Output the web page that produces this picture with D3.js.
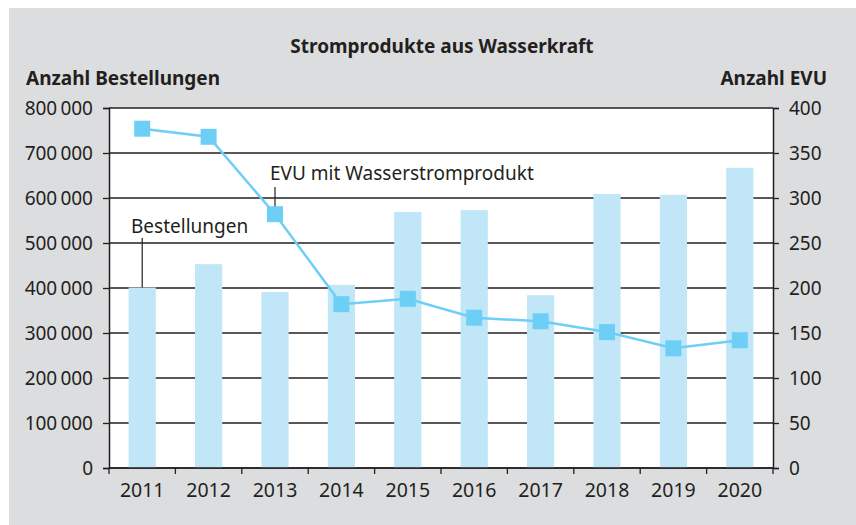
<!DOCTYPE html>
<html><head><meta charset="utf-8">
<script src="https://cdn.jsdelivr.net/npm/d3@7"></script>
<style>
html,body{margin:0;padding:0;background:#fff;}
text{font-family:"Noto Sans",sans-serif;fill:#231f20;}
</style></head>
<body>
<svg id="chart" width="856" height="525"></svg>
<script>
const years = ["2011","2012","2013","2014","2015","2016","2017","2018","2019","2020"];
const bestellungen = [401000, 453000, 391000, 407000, 569000, 573000, 384000, 609000, 607000, 667000];
const evu = [377, 368, 282, 182, 188, 167, 163, 151, 133, 142];
const leftTicks = [0,100000,200000,300000,400000,500000,600000,700000,800000];
const leftTickLabels = ["0","100\u2009000","200\u2009000","300\u2009000","400\u2009000","500\u2009000","600\u2009000","700\u2009000","800\u2009000"];
const rightTicks = [0,50,100,150,200,250,300,350,400];
const rightTickLabels = ["0","50","100","150","200","250","300","350","400"];
const titleText = "Stromprodukte aus Wasserkraft";
const leftAxisTitle = "Anzahl Bestellungen";
const rightAxisTitle = "Anzahl EVU";
const barLabel = "Bestellungen";
const lineLabel = "EVU mit Wasserstromprodukt";

const ink = "#231f20";
const FS = "19px";
const svg = d3.select("#chart");
svg.append("rect").attr("x",9).attr("y",8).attr("width",847).attr("height",517).attr("fill","#dcdddf");

const m = {l:109, r:773, t:108, b:468};
const x = d3.scaleBand().domain(years).range([m.l, m.r]);
const yL = d3.scaleLinear().domain([0,800000]).range([m.b, m.t]);
const yR = d3.scaleLinear().domain([0,400]).range([m.b, m.t]);

svg.append("rect").attr("x",m.l).attr("y",m.t).attr("width",m.r-m.l).attr("height",m.b-m.t).attr("fill","#fff");

// gridlines
svg.append("g").selectAll("line").data(leftTicks).join("line")
  .attr("x1",m.l).attr("x2",m.r).attr("y1",d=>yL(d)).attr("y2",d=>yL(d))
  .attr("stroke",ink).attr("stroke-width",1.3);

// bars
const bw = x.bandwidth()*0.41;
svg.append("g").selectAll("rect").data(years).join("rect")
  .attr("x",(d)=>x(d)+x.bandwidth()/2-bw/2)
  .attr("width",bw)
  .attr("y",(d,i)=>yL(bestellungen[i]))
  .attr("height",(d,i)=>yL(0)-yL(bestellungen[i]))
  .attr("fill","#c1e6f8");

// baseline
svg.append("line").attr("x1",m.l).attr("x2",m.r).attr("y1",m.b).attr("y2",m.b).attr("stroke",ink).attr("stroke-width",1.5);

// left axis
const la = svg.append("g").attr("transform",`translate(${m.l},0)`)
  .call(d3.axisLeft(yL).tickValues(leftTicks).tickFormat((d,i)=>leftTickLabels[i]).tickSize(6).tickPadding(10));
la.select(".domain").attr("stroke",ink).attr("stroke-width",1.5);
la.selectAll(".tick line").attr("stroke",ink).attr("stroke-width",1.3);
la.selectAll(".tick text").style("font-size",FS).style("font-family","'Noto Sans',sans-serif").attr("fill",ink);

// right axis
const ra = svg.append("g").attr("transform",`translate(${m.r},0)`)
  .call(d3.axisRight(yR).tickValues(rightTicks).tickFormat((d,i)=>rightTickLabels[i]).tickSize(6).tickPadding(10));
ra.select(".domain").attr("stroke",ink).attr("stroke-width",1.5);
ra.selectAll(".tick line").attr("stroke",ink).attr("stroke-width",1.3);
ra.selectAll(".tick text").style("font-size",FS).style("font-family","'Noto Sans',sans-serif").attr("fill",ink);

// bottom axis: labels centered, ticks on boundaries
const xb = svg.append("g").attr("transform",`translate(0,${m.b})`)
  .call(d3.axisBottom(x).tickSize(0).tickPadding(15));
xb.select(".domain").remove();
xb.selectAll(".tick text").style("font-size","19.5px").style("font-family","'Noto Sans',sans-serif").attr("fill",ink);
const bounds = years.map(d=>x(d)).concat([x(years[years.length-1])+x.bandwidth()]);
svg.append("g").selectAll("line").data(bounds).join("line")
  .attr("x1",d=>d).attr("x2",d=>d).attr("y1",m.b).attr("y2",m.b+6)
  .attr("stroke",ink).attr("stroke-width",1.3);

// line
const cx = d=>x(d)+x.bandwidth()/2;
const lineGen = d3.line().x((d,i)=>cx(years[i])).y(d=>yR(d));
svg.append("path").datum(evu).attr("d",lineGen).attr("fill","none").attr("stroke","#6dcff6").attr("stroke-width",2.5);
const ms = 16;
svg.append("g").selectAll("rect").data(evu).join("rect")
  .attr("x",(d,i)=>cx(years[i])-ms/2).attr("y",d=>yR(d)-ms/2)
  .attr("width",ms).attr("height",ms).attr("fill","#6dcff6");

// annotations
svg.append("line").attr("x1",cx(years[0])).attr("x2",cx(years[0]))
  .attr("y1",238).attr("y2",yL(bestellungen[0])).attr("stroke",ink).attr("stroke-width",1.2);
svg.append("text").attr("x",131).attr("y",233).style("font-size",FS).text(barLabel);
svg.append("line").attr("x1",cx(years[2])).attr("x2",cx(years[2]))
  .attr("y1",187).attr("y2",yR(evu[2])-ms/2).attr("stroke",ink).attr("stroke-width",1.2);
svg.append("text").attr("x",270).attr("y",180).style("font-size",FS).text(lineLabel);

// titles
svg.append("text").attr("x",442).attr("y",53).attr("text-anchor","middle")
  .style("font-size",FS).style("font-weight","bold").text(titleText);
svg.append("text").attr("x",26).attr("y",85)
  .style("font-size",FS).style("font-weight","bold").text(leftAxisTitle);
svg.append("text").attr("x",827).attr("y",85).attr("text-anchor","end")
  .style("font-size",FS).style("font-weight","bold").text(rightAxisTitle);
</script>
</body></html>
